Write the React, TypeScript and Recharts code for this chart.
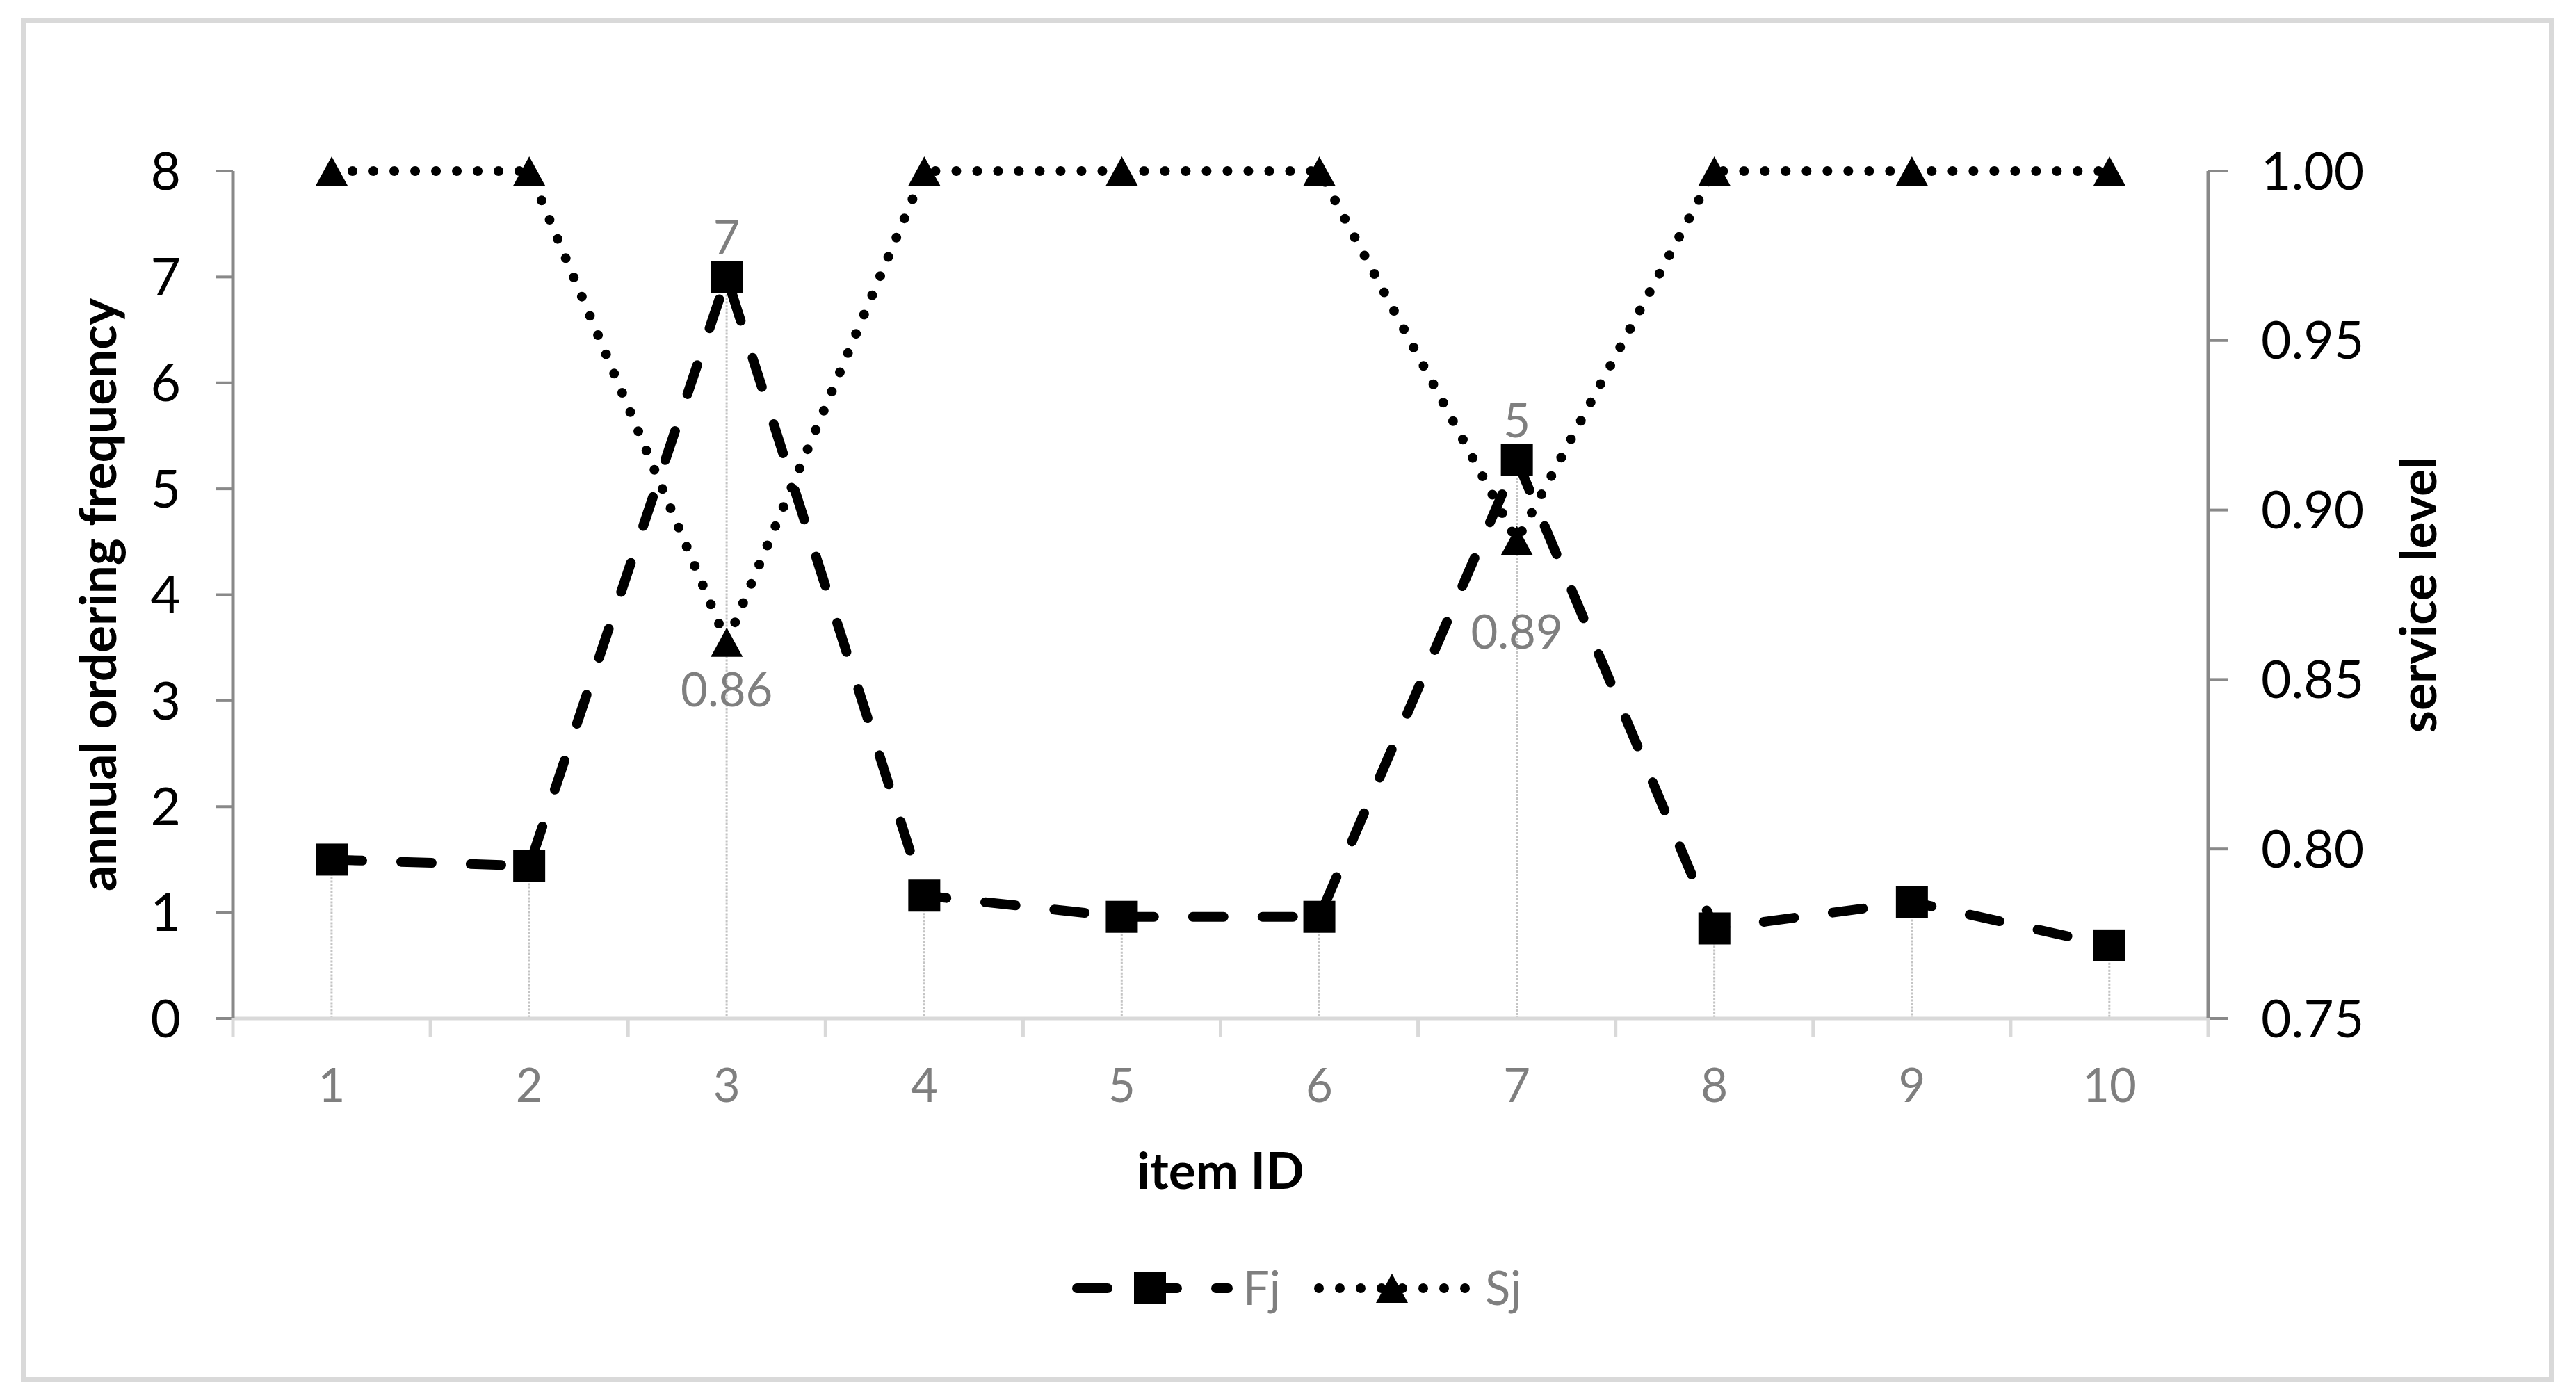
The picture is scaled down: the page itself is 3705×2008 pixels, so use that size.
import React from 'react';
import { ComposedChart, Line, Bar, XAxis, YAxis, Legend, LabelList } from 'recharts';

const itemIds = ['1', '2', '3', '4', '5', '6', '7', '8', '9', '10'];
const fjValues = [1.5, 1.44, 7.0, 1.16, 0.96, 0.96, 5.27, 0.85, 1.1, 0.69];
const sjValues = [1.0, 1.0, 0.861, 1.0, 1.0, 1.0, 0.891, 1.0, 1.0, 1.0];
const fjLabels = ['', '', '7', '', '', '', '5', '', '', ''];
const sjLabels = ['', '', '0.86', '', '', '', '0.89', '', '', ''];
const leftTicks = [0, 1, 2, 3, 4, 5, 6, 7, 8];
const rightTicks = [0.75, 0.8, 0.85, 0.9, 0.95, 1.0];

const data = itemIds.map((id, i) => ({
  id,
  Fj: fjValues[i],
  Sj: sjValues[i],
  fjLabel: fjLabels[i],
  sjLabel: sjLabels[i],
}));

const FONT = 'Lato, "Open Sans", sans-serif';
const AXIS_GRAY = '#898989';
const LIGHT_GRAY = '#d9d9d9';
const TEXT_GRAY = '#7f7f7f';

const FJ_DASH = '44 56';
const SJ_DOT = '0 30';
const LINE_W = 14;

// gap between a Sj point and its label below
const sjLabelGap: Record<number, number> = { 2: 92, 6: 156 };

const Square = ({ cx, cy, size = 46 }: any) => (
  <rect x={cx - size / 2} y={cy - size / 2} width={size} height={size} fill="#000" />
);

const Triangle = ({ cx, cy, w = 46, h = 42 }: any) => (
  <polygon points={`${cx},${cy - h / 2} ${cx + w / 2},${cy + h / 2} ${cx - w / 2},${cy + h / 2}`} fill="#000" />
);

const XTick = (props: any) => {
  const { x, y, payload, index, visibleTicksCount } = props;
  const half = typeof payload?.offset === 'number' ? payload.offset : 0;
  const last = index === visibleTicksCount - 1;
  return (
    <g>
      <line x1={x - half} y1={y} x2={x - half} y2={y + 26} stroke={LIGHT_GRAY} strokeWidth={5} />
      {last && <line x1={x + half} y1={y} x2={x + half} y2={y + 26} stroke={LIGHT_GRAY} strokeWidth={5} />}
      <text x={x} y={y + 120} textAnchor="middle" fill={TEXT_GRAY} fontSize={67} fontFamily={FONT}>
        {payload.value}
      </text>
    </g>
  );
};

const DropLine = (props: any) => {
  const { x, y, width, height } = props;
  if (height == null) return null;
  const cx = x + width / 2;
  return (
    <line x1={cx} y1={y} x2={cx} y2={y + height} stroke="#c4c4c4" strokeWidth={3} strokeDasharray="3 2" />
  );
};

const renderLegend = (props: any) => {
  const seen = new Set<string>();
  const items = (props.payload || []).filter((p: any) => {
    if (p.type === 'none' || (p.value !== 'Fj' && p.value !== 'Sj') || seen.has(p.value)) return false;
    seen.add(p.value);
    return true;
  });
  const starts = [1542, 1890];
  const lineLen = 224;
  return (
    <svg width={3705} height={110}>
      {items.map((it: any, i: number) => {
        const x0 = starts[i];
        const cy = 53;
        const mid = x0 + lineLen / 2;
        const isFj = it.value === 'Fj';
        return (
          <g key={it.value}>
            <line
              x1={x0 + 7}
              y1={cy}
              x2={x0 + lineLen}
              y2={cy}
              stroke="#000"
              strokeWidth={LINE_W}
              strokeDasharray={isFj ? FJ_DASH : SJ_DOT}
              strokeLinecap="round"
            />
            {isFj ? <Square cx={mid} cy={cy} /> : <Triangle cx={mid} cy={cy} />}
            <text x={x0 + lineLen + 22} y={cy + 24} fill={TEXT_GRAY} fontSize={67} fontFamily={FONT}>
              {it.value}
            </text>
          </g>
        );
      })}
    </svg>
  );
};

const leftTitle = (p: any) => {
  const vb = p.viewBox;
  const x = vb.x + 167;
  const y = vb.y + vb.height / 2;
  return (
    <text x={x} y={y} transform={`rotate(-90 ${x} ${y})`} textAnchor="middle" fontSize={73} fontWeight="bold" fontFamily={FONT} fill="#000">
      annual ordering frequency
    </text>
  );
};

const rightTitle = (p: any) => {
  const vb = p.viewBox;
  const x = vb.x + 328;
  const y = vb.y + vb.height / 2;
  return (
    <text x={x} y={y} transform={`rotate(-90 ${x} ${y})`} textAnchor="middle" fontSize={73} fontWeight="bold" fontFamily={FONT} fill="#000">
      service level
    </text>
  );
};

const xTitle = (p: any) => {
  const vb = p.viewBox;
  return (
    <text x={vb.x + vb.width / 2} y={vb.y + 245} textAnchor="middle" fontSize={73} fontWeight="bold" fontFamily={FONT} fill="#000">
      item ID
    </text>
  );
};

const fjLabelContent = (p: any) => {
  if (!p.value) return null;
  return (
    <text x={p.x} y={p.y - 57 + 24} textAnchor="middle" fill={TEXT_GRAY} fontSize={67} fontFamily={FONT}>
      {p.value}
    </text>
  );
};

const sjLabelContent = (p: any) => {
  if (!p.value) return null;
  const gap = sjLabelGap[p.index] ?? 80;
  return (
    <text x={p.x} y={p.y + gap} textAnchor="middle" fill={TEXT_GRAY} fontSize={67} fontFamily={FONT}>
      {p.value}
    </text>
  );
};

export default function App() {
  return (
    <div style={{ position: 'absolute', left: 0, top: 0, width: 3705, height: 2008, background: '#fff' }}>
      <div
        style={{
          position: 'absolute',
          left: 30,
          top: 26,
          width: 3643,
          height: 1962,
          border: `7px solid ${LIGHT_GRAY}`,
          boxSizing: 'border-box',
          pointerEvents: 'none',
        }}
      />
      <ComposedChart width={3705} height={2008} data={data} margin={{ top: 246, right: 0, bottom: 243, left: 0 }}>
        <XAxis
          dataKey="id"
          height={300}
          interval={0}
          tickSize={0}
          tickMargin={0}
          tickLine={false}
          axisLine={{ stroke: LIGHT_GRAY, strokeWidth: 5 }}
          tick={<XTick />}
          label={xTitle}
        />
        <YAxis
          yAxisId="left"
          orientation="left"
          domain={[0, 8]}
          ticks={leftTicks}
          width={335}
          tickSize={25}
          tickMargin={50}
          axisLine={{ stroke: AXIS_GRAY, strokeWidth: 5 }}
          tickLine={{ stroke: AXIS_GRAY, strokeWidth: 4 }}
          tick={{ fill: '#000', fontSize: 75, fontFamily: FONT }}
          label={leftTitle}
        />
        <YAxis
          yAxisId="right"
          orientation="right"
          domain={[0.75, 1.0]}
          ticks={rightTicks}
          width={529}
          tickSize={28}
          tickMargin={48}
          tickFormatter={(v: number) => v.toFixed(2)}
          axisLine={{ stroke: AXIS_GRAY, strokeWidth: 5 }}
          tickLine={{ stroke: AXIS_GRAY, strokeWidth: 4 }}
          tick={{ fill: '#000', fontSize: 75, fontFamily: FONT }}
          label={rightTitle}
        />
        <Line
          yAxisId="left"
          dataKey="Fj"
          name="Fj"
          stroke="#000"
          strokeWidth={LINE_W}
          strokeDasharray={FJ_DASH}
          strokeLinecap="round"
          dot={(p: any) => <Square key={`fj-${p.index}`} cx={p.cx} cy={p.cy} />}
          activeDot={false}
          isAnimationActive={false}
        >
          <LabelList dataKey="fjLabel" content={fjLabelContent} />
        </Line>
        <Line
          yAxisId="right"
          dataKey="Sj"
          name="Sj"
          stroke="#000"
          strokeWidth={LINE_W}
          strokeDasharray={SJ_DOT}
          strokeLinecap="round"
          dot={(p: any) => <Triangle key={`sj-${p.index}`} cx={p.cx} cy={p.cy} />}
          activeDot={false}
          isAnimationActive={false}
        >
          <LabelList dataKey="sjLabel" content={sjLabelContent} />
        </Line>
        <Bar yAxisId="left" dataKey="Fj" name="drop" legendType="none" shape={<DropLine />} isAnimationActive={false} />
        <Legend
          layout="vertical"
          align="center"
          verticalAlign="middle"
          content={renderLegend}
          wrapperStyle={{ position: 'absolute', left: 0, top: 1800, width: 3705, height: 110 }}
        />
      </ComposedChart>
    </div>
  );
}
